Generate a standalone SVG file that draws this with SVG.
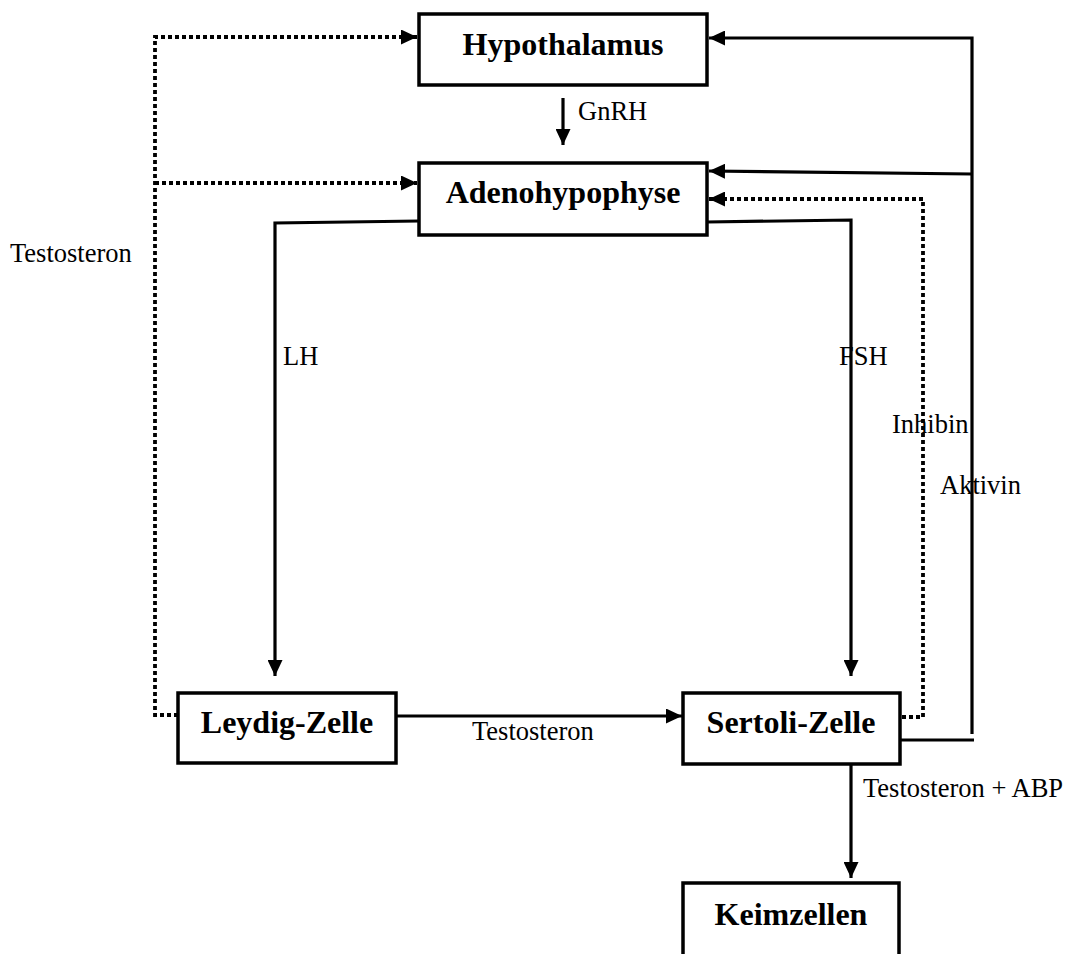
<svg xmlns="http://www.w3.org/2000/svg" width="1072" height="954" viewBox="0 0 1072 954">
<style>
.box{fill:#fff;stroke:#000;stroke-width:3.5}
.title{font-family:"Liberation Serif",serif;font-weight:bold;font-size:32px;text-anchor:middle;fill:#000}
.lbl{font-family:"Liberation Serif",serif;font-size:26.5px;fill:#000}
.solid{fill:none;stroke:#000;stroke-width:3.2}
.dot{fill:none;stroke:#000;stroke-width:3.8;stroke-dasharray:4 3}
</style>
<defs>
<marker id="ah" markerUnits="userSpaceOnUse" markerWidth="17" markerHeight="15" refX="16" refY="7.5" orient="auto">
<path d="M0,0 L16,7.5 L0,15 z" fill="#000"/>
</marker>
</defs>
<rect width="1072" height="954" fill="#fff"/>
<g id="connectors">
<path class="solid" d="M563,98 L563,145" marker-end="url(#ah)"/>
<path class="dot" d="M178,715 L155,715 L155,37 L417,37" marker-end="url(#ah)"/>
<path class="dot" d="M155,183 L417,183" marker-end="url(#ah)"/>
<path class="solid" d="M419,221 L275,223 L275,676" marker-end="url(#ah)"/>
<path class="solid" d="M707,222 L851,220 L851,676" marker-end="url(#ah)"/>
<path class="dot" d="M902,717 L923,717 L923,199 L709,199" marker-end="url(#ah)"/>
<path class="solid" d="M900,740 L974,740"/>
<path class="solid" d="M972,734 L972,38 L709,38" marker-end="url(#ah)"/>
<path class="solid" d="M972,174 L709,171" marker-end="url(#ah)"/>
<path class="solid" d="M396,716 L682,716" marker-end="url(#ah)"/>
<path class="solid" d="M851,764 L851,878" marker-end="url(#ah)"/>
<text class="lbl" x="578" y="120">GnRH</text>
<text class="lbl" x="10" y="262">Testosteron</text>
<text class="lbl" x="283" y="365">LH</text>
<text class="lbl" x="839" y="365">FSH</text>
<text class="lbl" x="892" y="433">Inhibin</text>
<text class="lbl" x="940" y="494">Aktivin</text>
<text class="lbl" x="472" y="740">Testosteron</text>
<text class="lbl" x="863" y="797">Testosteron + ABP</text>
</g>
<g id="hypothalamus">
<rect class="box" x="419" y="14" width="288" height="71"/>
<text class="title" x="563" y="55">Hypothalamus</text>
</g>
<g id="adenohypophyse">
<rect class="box" x="419" y="163" width="288" height="72"/>
<text class="title" x="563" y="203">Adenohypophyse</text>
</g>
<g id="leydig">
<rect class="box" x="178" y="693" width="218" height="70"/>
<text class="title" x="287" y="733">Leydig-Zelle</text>
</g>
<g id="sertoli">
<rect class="box" x="683" y="693" width="217" height="71"/>
<text class="title" x="791" y="733">Sertoli-Zelle</text>
</g>
<g id="keimzellen">
<rect class="box" x="683" y="883" width="216" height="90"/>
<text class="title" x="791" y="925">Keimzellen</text>
</g>
</svg>
